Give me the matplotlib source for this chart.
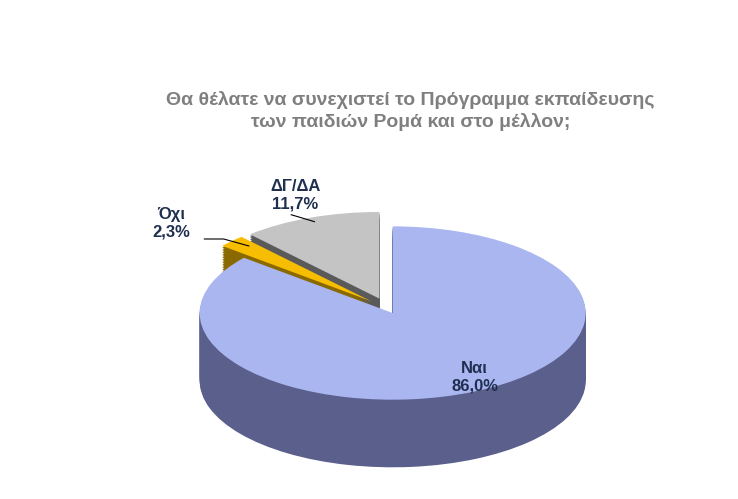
import matplotlib
matplotlib.use("Agg")
import matplotlib.pyplot as plt
import numpy as np

labels = ["ΔΓ/ΔΑ", "Όχι", "Ναι"]
values = [11.7, 2.3, 86.0]
pct_text = ["11,7%", "2,3%", "86,0%"]
explode = [0.12, 0.12, 0.06]
top_colors = ["#c4c4c4", "#f7bd00", "#aab6f0"]
side_colors = ["#5a5a5a", "#8a6a00", "#5a5f8c"]

fig = plt.figure(figsize=(7.38, 4.99), dpi=100)
fig.patch.set_facecolor("white")
ax = fig.add_axes([0.12, 0.0, 0.85, 0.66])

depth = 0.78
steps = 40
for k in range(steps, 0, -1):
    off = depth * k / steps
    ax.pie(values, explode=explode, startangle=90, counterclock=True,
           colors=side_colors, center=(0, -off), radius=1.0,
           wedgeprops=dict(linewidth=0))
wedges, _ = ax.pie(values, explode=explode, startangle=90, counterclock=True,
                   colors=top_colors, center=(0, 0), radius=1.0,
                   wedgeprops=dict(linewidth=0))
ax.set_aspect("auto")
ax.set_xlim(-1.55, 1.7)
ax.set_ylim(-2.2, 1.6)
ax.axis("off")

fig.text(0.556, 0.778, "Θα θέλατε να συνεχιστεί το Πρόγραμμα εκπαίδευσης\nτων παιδιών Ρομά και στο μέλλον;",
         ha="center", va="center", fontsize=14, fontweight="bold", color="#7f7f7f",
         family=["Liberation Sans", "DejaVu Sans"], linespacing=1.3)

lab_color = "#1f2f4f"
kw = dict(ha="center", va="center", fontsize=12, fontweight="bold", color=lab_color,
          family=["Liberation Sans", "DejaVu Sans"])
ax.text(0.45, -0.8, f"{labels[2]}\n{pct_text[2]}", **kw)
ax.text(-0.48, 1.3, f"{labels[0]}\n{pct_text[0]}", **kw)
ax.text(-1.12, 0.98, f"{labels[1]}\n{pct_text[1]}", **kw)
ax.plot([-0.95, -0.85, -0.72], [0.8, 0.8, 0.72], color="black", lw=0.8)
ax.plot([-0.5, -0.38], [1.08, 1.0], color="black", lw=0.8)

fig.savefig("out.png", dpi=100, facecolor="white")
